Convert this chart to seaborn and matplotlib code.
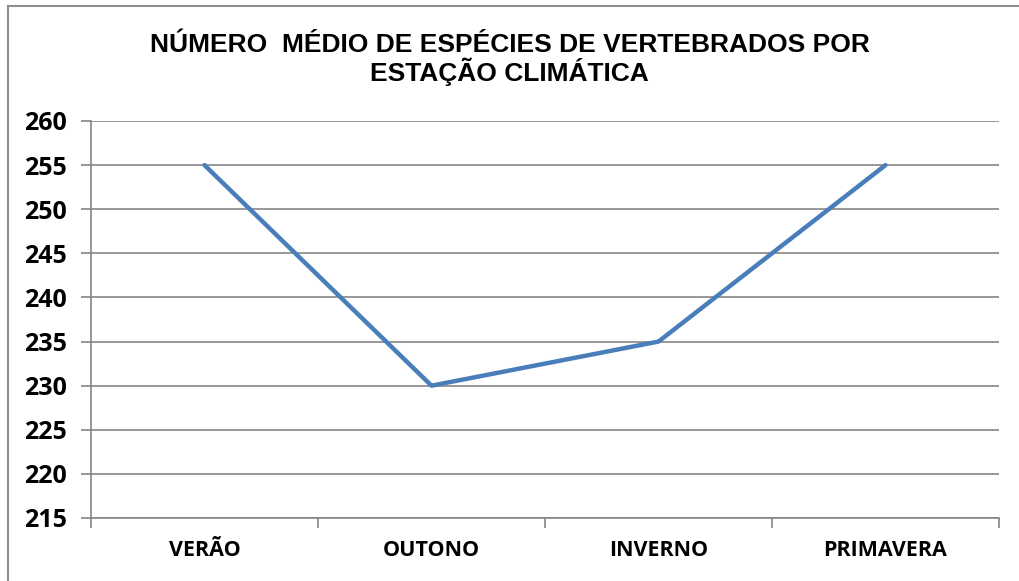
import matplotlib
matplotlib.use("Agg")
import matplotlib.pyplot as plt
import seaborn as sns
import pandas as pd
from matplotlib.patches import Rectangle
from matplotlib.ticker import FixedLocator, MultipleLocator

seasons = ["VERÃO", "OUTONO", "INVERNO", "PRIMAVERA"]
species = [255, 230, 235, 255]
y_min, y_max, y_step = 215, 260, 5

sns.set_style("white")
plt.rcParams["font.family"] = ["Open Sans", "DejaVu Sans"]
plt.rcParams["text.color"] = "black"
plt.rcParams["xtick.labelcolor"] = "black"
plt.rcParams["ytick.labelcolor"] = "black"

df = pd.DataFrame({"Estação": seasons, "Espécies": species})

fig = plt.figure(figsize=(10.19, 5.81), dpi=100)
ax = fig.add_axes([91 / 1019, 63 / 581, 908 / 1019, 397 / 581])

# Chart frame (clipped at right and bottom like the original)
fig.patches.append(Rectangle((8 / 1019, -0.05), 1.1, 0.05 + 575 / 581,
                             transform=fig.transFigure, fill=False,
                             edgecolor="#8c8c8c", linewidth=1.5))

x = list(range(len(seasons)))
sns.lineplot(x=x, y=df["Espécies"], ax=ax, color="#4a7ebb", linewidth=3.2)

ax.set_xlim(-0.5, len(seasons) - 0.5)
ax.set_ylim(y_min, y_max)

# Horizontal gridlines
ax.yaxis.set_major_locator(MultipleLocator(y_step))
ax.grid(axis="y", color="#868686", linewidth=1.2)
ax.grid(axis="x", visible=False)
ax.set_axisbelow(True)

# Category boundaries as ticks, labels in the middle
ax.xaxis.set_major_locator(FixedLocator([i - 0.5 for i in range(len(seasons) + 1)]))
ax.xaxis.set_minor_locator(FixedLocator(x))
ax.set_xticklabels([], minor=False)
ax.set_xticklabels(seasons, minor=True, fontsize=15.5, fontweight="bold", color="black")
ax.tick_params(axis="x", which="major", length=7, width=1.2, color="#868686",
               direction="out", bottom=True)
ax.tick_params(axis="x", which="minor", length=0, pad=16)

ax.set_yticks(range(y_min, y_max + 1, y_step))
ax.set_yticklabels([str(v) for v in range(y_min, y_max + 1, y_step)],
                   fontsize=18, fontweight="bold", color="black")
ax.tick_params(axis="y", length=7, width=1.2, color="#868686",
               direction="out", left=True, pad=10.5)

for side in ["top", "right"]:
    ax.spines[side].set_visible(False)
for side in ["left", "bottom"]:
    ax.spines[side].set_color("#868686")
    ax.spines[side].set_linewidth(1.2)

ax.set_xlabel("")
ax.set_ylabel("")

fig.text(0.5, 0.943, "NÚMERO  MÉDIO DE ESPÉCIES DE VERTEBRADOS POR\nESTAÇÃO CLIMÁTICA",
         ha="center", va="top", fontsize=19, fontweight="bold", color="black",
         family="Liberation Sans", linespacing=1.0)

fig.savefig("out.png", dpi=100)
